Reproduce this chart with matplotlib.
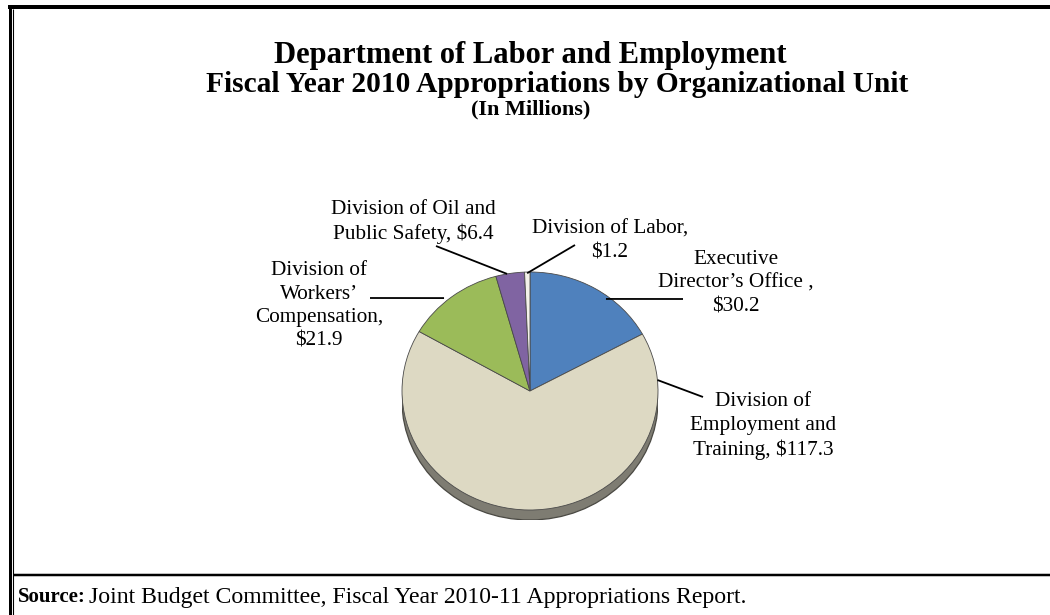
import matplotlib
matplotlib.use("Agg")
import matplotlib.pyplot as plt
from matplotlib.patches import Ellipse
import numpy as np

# ---- data ----
categories = ["Executive Director's Office", "Division of Employment and Training",
              "Division of Workers' Compensation", "Division of Oil and Public Safety",
              "Division of Labor"]
label_names = ["Executive\nDirector\u2019s Office ,", "Division of\nEmployment and\nTraining,",
               "Division of\nWorkers\u2019\nCompensation,", "Division of Oil and\nPublic Safety,",
               "Division of Labor,"]
label_joiners = ["\n", " ", "\n", " ", "\n"]
values = [30.2, 117.3, 21.9, 6.4, 1.2]
colors = ["#4F81BD", "#DDD9C3", "#9BBB59", "#8064A2", "#F4F2EA"]

title = "Department of Labor and Employment"
subtitle = "Fiscal Year 2010 Appropriations by Organizational Unit"
subtitle2 = "(In Millions)"
source_bold = "Source:"
source_text = "Joint Budget Committee, Fiscal Year 2010-11 Appropriations Report."

# ---- layout ----
W, H = 1050, 615
SERIF = "Liberation Serif"
fig = plt.figure(figsize=(W / 100, H / 100), dpi=100)
fig.patch.set_facecolor("white")

cx, cy, rx, ry, depth = 530, 391, 128, 119, 10
pax = fig.add_axes([(cx - rx) / W, 1 - (cy + ry + depth) / H, 2 * rx / W, (2 * ry + depth) / H])
pax.add_patch(Ellipse((0, -depth / ry), 2, 2, fc="#7E7C72", ec="#4A4943", lw=0.9))
wedges, _ = pax.pie(values, colors=colors, startangle=90, counterclock=False, radius=1,
                    wedgeprops=dict(edgecolor="#4A4A4A", linewidth=0.6))
pax.set_aspect("auto")
pax.set_xlim(-1, 1)
pax.set_ylim(-1 - depth / ry, 1)
pax.axis("off")

ov = fig.add_axes([0, 0, 1, 1])
ov.set_xlim(0, W)
ov.set_ylim(H, 0)
ov.axis("off")
ov.patch.set_alpha(0)

# borders
kw = dict(color="black", solid_capstyle="butt", clip_on=False)
ov.plot([9.5, 9.5], [5, H], lw=3 * 0.72, **kw)
ov.plot([12.8, 12.8], [9, H], lw=1.1 * 0.72, **kw)
ov.plot([8, W], [7, 7], lw=4 * 0.72, **kw)
ov.plot([12.8, W], [575, 575], lw=2.5 * 0.72, **kw)

# titles
fig.text(530 / W, 1 - 55 / H, title, ha="center", va="center", fontsize=22,
         fontweight="bold", family=SERIF)
fig.text(557 / W, 1 - 85 / H, subtitle, ha="center", va="center", fontsize=21.2,
         fontweight="bold", family=SERIF)
fig.text(531 / W, 1 - 109 / H, subtitle2, ha="center", va="center", fontsize=16,
         fontweight="bold", family=SERIF)

# labels with leader lines
leader_angles = [52.5, 5.3, 130.7, 100.3, 91.3]
leader_r = [0.975, 1.0, 1.03, 1.0, 0.99]
leader_ends = [(683, 299), (703, 397), (370, 298), (436, 246), (575, 245)]
text_pos = [(736, 283), (763, 426), (319, 306), (413, 222), (610, 241)]
for name, j, v, a, r, end, tp in zip(label_names, label_joiners, values, leader_angles,
                                     leader_r, leader_ends, text_pos):
    t = np.deg2rad(a)
    sx = cx + r * rx * np.cos(t)
    sy = cy - r * ry * np.sin(t)
    ov.plot([sx, end[0]], [sy, end[1]], color="black", lw=1.3, solid_capstyle="butt")
    ov.text(tp[0], tp[1], f"{name}{j}${v:g}", ha="center", va="center", fontsize=15.3,
            family=SERIF, linespacing=1.33, multialignment="center")

# source
ov.text(18, 597, source_bold, ha="left", va="center", fontsize=15, fontweight="bold",
        family=SERIF)
ov.text(89, 597, source_text, ha="left", va="center", fontsize=17.1, family=SERIF)

fig.savefig("out.png", dpi=100)
